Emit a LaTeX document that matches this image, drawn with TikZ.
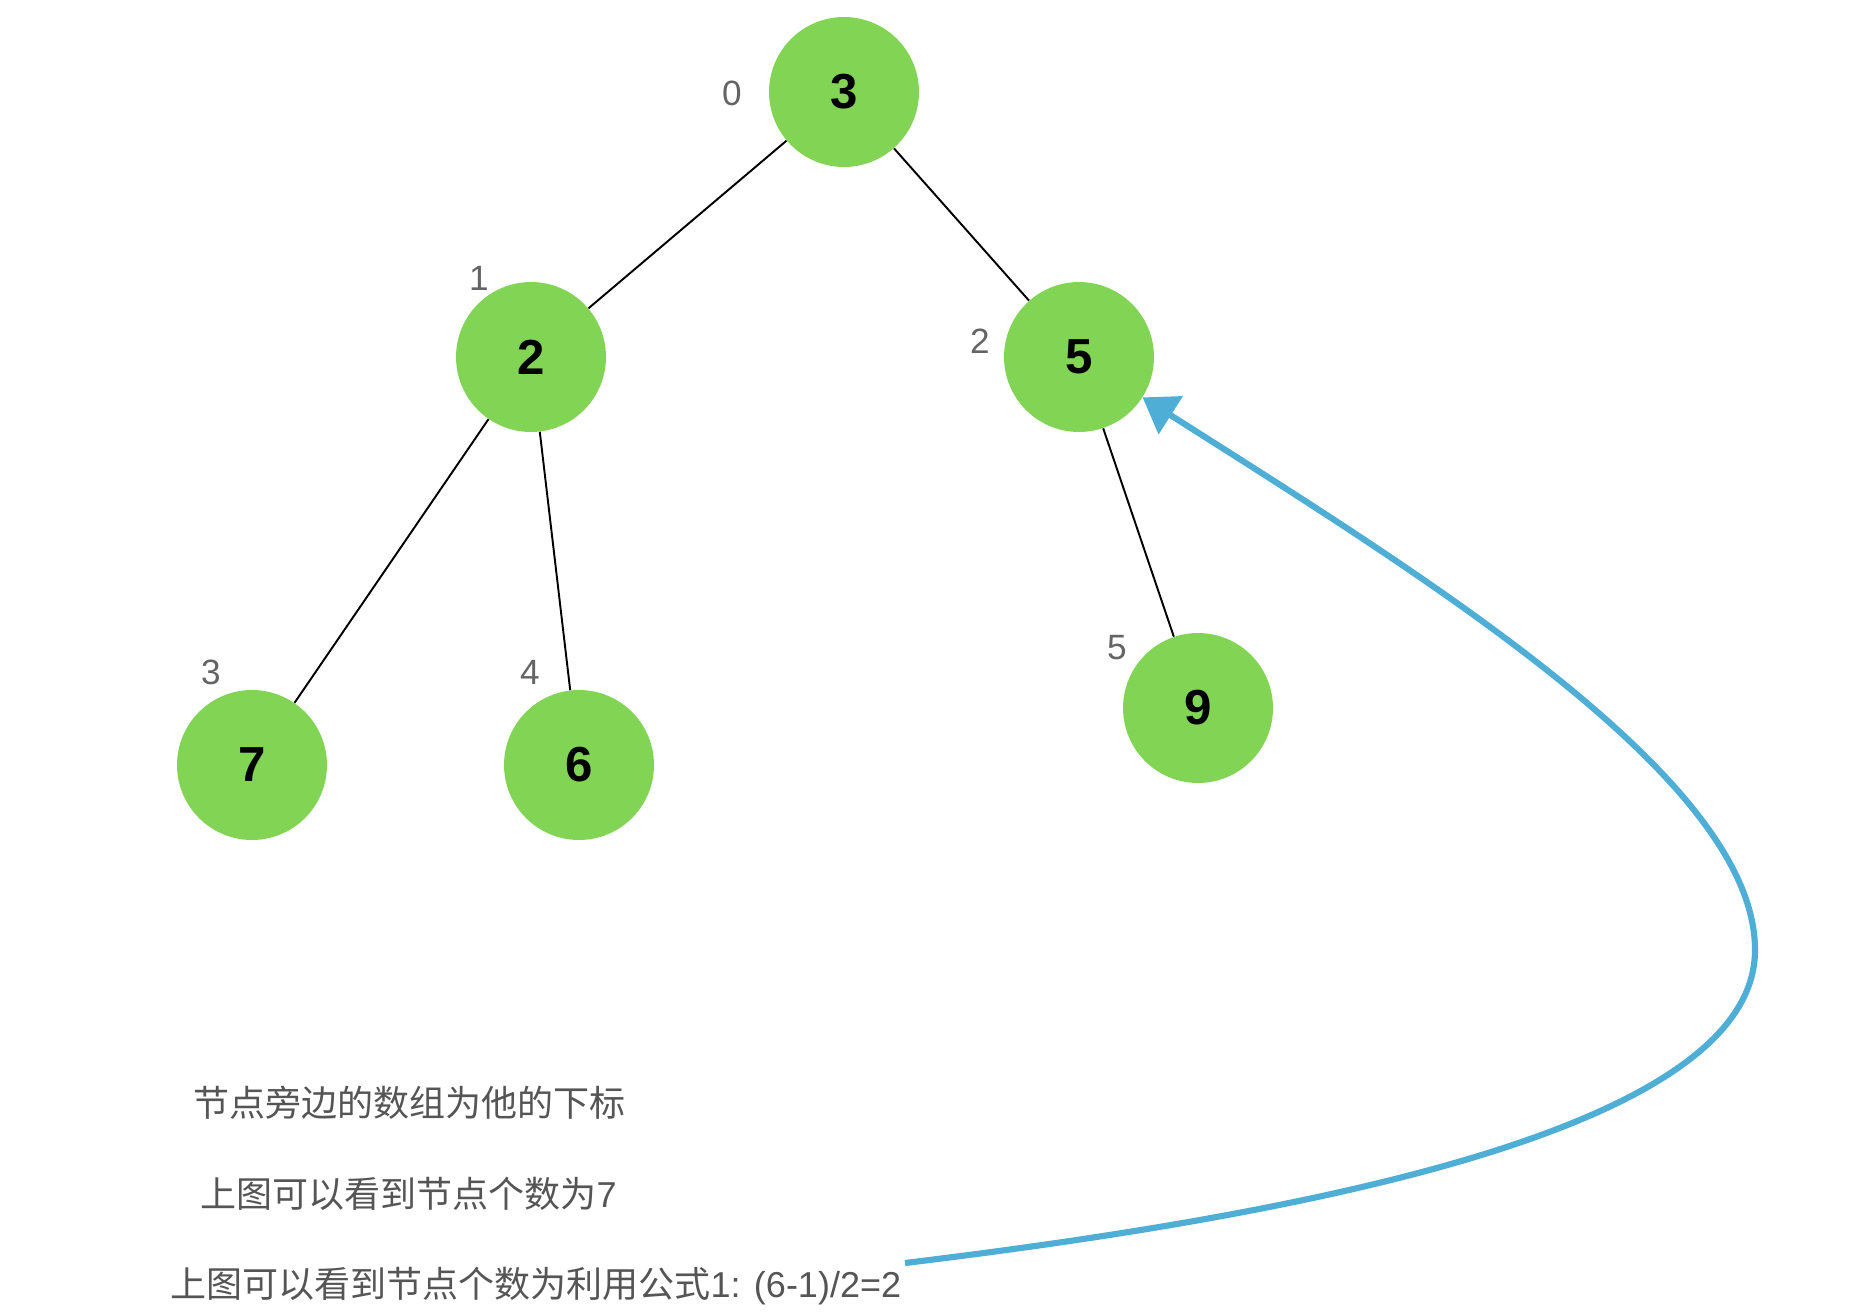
\documentclass[tikz,border=0pt]{standalone}
\usepackage{fontspec}
\setmainfont{Liberation Sans}
\newfontfamily\cjk{Noto Sans CJK SC}
\usepackage{tikz}
\usetikzlibrary{arrows.meta,positioning}
\usepackage{xcolor}
\definecolor{heapgreen}{RGB}{130,212,85}
\definecolor{idxgray}{RGB}{100,100,100}
\definecolor{notegray}{RGB}{85,85,85}
\definecolor{arrowblue}{RGB}{78,174,214}

\begin{document}
\begin{tikzpicture}[x=0.02cm,y=-0.02cm,
    heapnode/.style={circle,fill=heapgreen,minimum size=3cm,inner sep=0pt,font=\fontsize{28}{32}\selectfont\bfseries},
    idx/.style={text=idxgray,inner sep=0pt,font=\fontsize{20}{24}\selectfont},
    note/.style={anchor=west,inner sep=0pt,text=notegray,font=\cjk\fontsize{20.5}{24}\selectfont},
    edge/.style={line width=1.1pt}]
    \useasboundingbox (0,0) rectangle (1872,1312);

    % 堆的节点
    \node[heapnode] (N0) at (844,92) {3};
    \node[heapnode] (N1) at (531,357) {2};
    \node[heapnode] (N2) at (1079,357) {5};
    \node[heapnode] (N3) at (252,765) {7};
    \node[heapnode] (N4) at (579,765) {6};
    \node[heapnode] (N5) at (1198,708) {9};

    % 父子连线
    \draw[edge] (N0) -- (N1);
    \draw[edge] (N0) -- (N2);
    \draw[edge] (N1) -- (N3);
    \draw[edge] (N1) -- (N4);
    \draw[edge] (N2) -- (N5);

    % 数组下标
    \node[idx] (L0) at (732,93) {0};
    \node[idx] (L1) at (479,278) {1};
    \node[idx] (L2) at (980,341) {2};
    \node[idx] (L3) at (211,672) {3};
    \node[idx] (L4) at (530,672) {4};
    \node[idx] (L5) at (1117,648) {5};

    % 说明文字
    \node[note] (T1) at (193,1103) {节点旁边的数组为他的下标};
    \node[note] (T2) at (200,1194) {上图可以看到节点个数为{\rmfamily 7}};
    \node[note] (T3) at (170,1286) {上图可以看到节点个数为利用公式{\rmfamily 1: (6-1)/2=2}};

    % 指向父节点的箭头
    \coordinate (tail) at (905,1263);
    \draw[arrowblue, line width=3.5pt, -{Triangle[length=19pt,width=25pt]}]
        (tail) .. controls (1300,1215) and (1755,1130) .. (1755,950)
        .. controls (1755,780) and (1430,580) .. (N2);
\end{tikzpicture}
\end{document}
